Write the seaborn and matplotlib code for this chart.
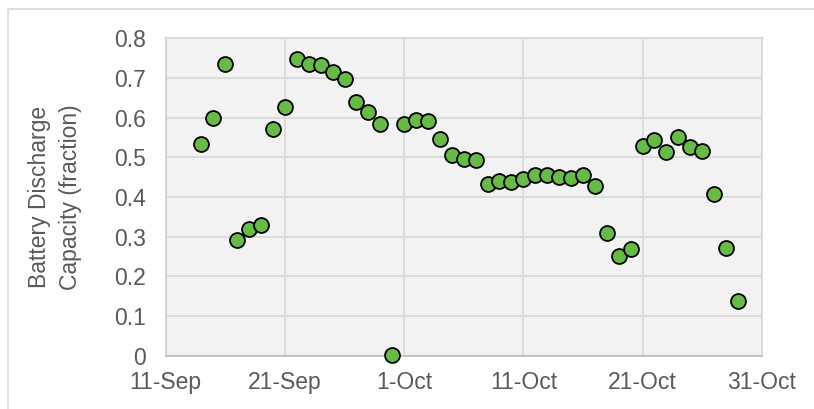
import pandas as pd
import matplotlib.pyplot as plt
import matplotlib.dates as mdates
from matplotlib.patches import Rectangle
import seaborn as sns

# Leituras diárias (14-Sep a 29-Oct)
datas = [
    '2019-09-14', '2019-09-15', '2019-09-16', '2019-09-17', '2019-09-18',
    '2019-09-19', '2019-09-20', '2019-09-21', '2019-09-22', '2019-09-23',
    '2019-09-24', '2019-09-25', '2019-09-26', '2019-09-27', '2019-09-28',
    '2019-09-29', '2019-09-30', '2019-10-01', '2019-10-02', '2019-10-03',
    '2019-10-04', '2019-10-05', '2019-10-06', '2019-10-07', '2019-10-08',
    '2019-10-09', '2019-10-10', '2019-10-11', '2019-10-12', '2019-10-13',
    '2019-10-14', '2019-10-15', '2019-10-16', '2019-10-17', '2019-10-18',
    '2019-10-19', '2019-10-20', '2019-10-21', '2019-10-22', '2019-10-23',
    '2019-10-24', '2019-10-25', '2019-10-26', '2019-10-27', '2019-10-28',
    '2019-10-29',
]
capacidade = [
    0.534, 0.599, 0.736, 0.291, 0.320, 0.329, 0.571, 0.626, 0.748, 0.735,
    0.733, 0.715, 0.697, 0.639, 0.615, 0.583, 0.002, 0.583, 0.594, 0.592,
    0.545, 0.506, 0.496, 0.493, 0.432, 0.441, 0.439, 0.445, 0.455, 0.455,
    0.450, 0.447, 0.455, 0.428, 0.309, 0.251, 0.269, 0.528, 0.544, 0.514,
    0.552, 0.527, 0.515, 0.408, 0.271, 0.137,
]
ticks_x = ['2019-09-11', '2019-09-21', '2019-10-01', '2019-10-11', '2019-10-21', '2019-10-31']
ticks_y = [0, 0.1, 0.2, 0.3, 0.4, 0.5, 0.6, 0.7, 0.8]
rotulos_y = ['0', '0.1', '0.2', '0.3', '0.4', '0.5', '0.6', '0.7', '0.8']

df = pd.DataFrame({'data': pd.to_datetime(datas), 'capacidade': capacidade})

sns.set_style('whitegrid', rc={'axes.facecolor': '#F2F2F2', 'grid.color': '#D9D9D9',
                               'axes.edgecolor': '#D9D9D9'})
plt.rcParams['font.family'] = ['Liberation Sans', 'DejaVu Sans']

fig = plt.figure(figsize=(8.14, 4.09), dpi=100)
ax = fig.add_axes([0.2036, 0.1303, 0.7322, 0.7761])

# moldura externa do gráfico
fig.patches.append(Rectangle((8 / 814, -0.05), 1.2, 1 - 9 / 409 + 0.05,
                             transform=fig.transFigure, fill=False,
                             edgecolor='#D9D9D9', linewidth=1.2))

sns.scatterplot(x='data', y='capacidade', data=df, ax=ax, s=115,
                color='#66BB44', edgecolor='black', linewidth=1.3,
                zorder=3, clip_on=False, legend=False)

ax.set_xlim(pd.Timestamp(ticks_x[0]), pd.Timestamp(ticks_x[-1]))
ax.set_ylim(0, 0.8)
ax.set_xticks(pd.to_datetime(ticks_x))
ax.xaxis.set_major_formatter(mdates.DateFormatter('%-d-%b'))
ax.set_yticks(ticks_y)
ax.set_yticklabels(rotulos_y)
ax.grid(True, color='#D9D9D9', linewidth=1.3)
ax.tick_params(length=0, labelsize=16.5, colors='#595959')
ax.tick_params(axis='x', pad=11)
ax.tick_params(axis='y', pad=14)
ax.spines['bottom'].set_color('#BFBFBF')
ax.spines['left'].set_color('#D0D0D0')
for lado in ['top', 'right']:
    ax.spines[lado].set_color('#D9D9D9')
for sp in ax.spines.values():
    sp.set_linewidth(1.3)

ax.set_xlabel('')
ax.set_ylabel('Battery Discharge\nCapacity (fraction)', fontsize=16.5, color='#595959',
              linespacing=1.45)
ax.yaxis.set_label_coords(-0.14, 0.5)

fig.savefig('out.png', dpi=100)
